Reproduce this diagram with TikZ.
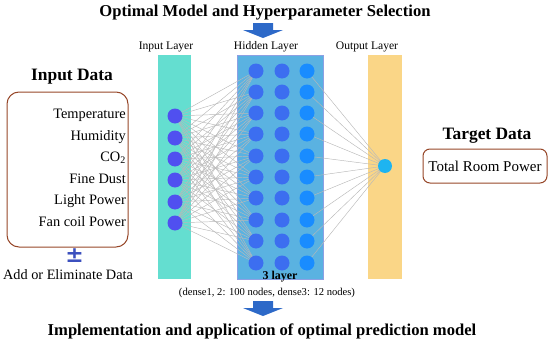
\documentclass[tikz,border=0pt]{standalone}
\usepackage{fontspec}
\setmainfont{Liberation Serif}
\newfontfamily\symfont{DejaVu Sans}
\pgfdeclarelayer{bars}
\pgfdeclarelayer{front}
\pgfsetlayers{bars,main,front}
\definecolor{inbar}{RGB}{100,222,208}
\definecolor{hidbar}{RGB}{90,178,225}
\definecolor{hidedge}{RGB}{140,160,228}
\definecolor{outbar}{RGB}{250,214,135}
\definecolor{innode}{RGB}{80,80,240}
\definecolor{hidnode}{RGB}{60,110,240}
\definecolor{hidnodeC}{RGB}{25,140,255}
\definecolor{outnode}{RGB}{30,180,240}
\definecolor{boxedge}{RGB}{150,70,40}
\definecolor{pmblue}{RGB}{60,80,190}
\definecolor{arrowblue}{RGB}{45,105,200}
\definecolor{linkgray}{RGB}{185,185,185}
\tikzset{
  title/.style={font=\bfseries\fontsize{16.6}{20}\selectfont, inner sep=0pt},
  layerlabel/.style={font=\fontsize{11.6}{13}\selectfont, inner sep=0pt},
  neuron/.style={circle, inner sep=0pt, minimum size=15pt, fill=#1},
  link/.style={draw=linkgray, line width=0.45pt},
  databox/.style={draw=boxedge, line width=1pt, rounded corners=12pt},
  item/.style={font=\fontsize{14.4}{16}\selectfont, anchor=east, inner sep=0pt},
  head/.style={font=\bfseries\fontsize{17.4}{20}\selectfont, inner sep=0pt},
  blockarrow/.style={fill=arrowblue, draw=none}
}
\begin{document}
\begin{tikzpicture}[x=1pt,y=-1pt]
\useasboundingbox (0,0) rectangle (550,343);
% titles
\node[title] (top) at (265,13) {Optimal Model and Hyperparameter Selection};
\node[title] (bottom) at (262,331) {Implementation and application of optimal prediction model};
% block arrows
\fill[blockarrow] (253,23) -- (273,23) -- (273,30) -- (283,30) -- (263,38) -- (243,30) -- (253,30) -- cycle;
\fill[blockarrow] (253,301) -- (273,301) -- (273,308) -- (283,308) -- (263,316) -- (243,308) -- (253,308) -- cycle;
% layer labels
\node[layerlabel] (lin) at (166,47) {Input Layer};
\node[layerlabel] (lhid) at (266,47) {Hidden Layer};
\node[layerlabel] (lout) at (367,47) {Output Layer};
% bars
\begin{pgfonlayer}{bars}
\fill[inbar] (158,55) rectangle (191,279);
\fill[hidbar, draw=hidedge, line width=0.8pt] (237,55) rectangle (323,279);
\fill[outbar] (368,55) rectangle (402,279);
\end{pgfonlayer}
% neurons
\begin{pgfonlayer}{front}
\foreach \i/\y in {1/116,2/138,3/159,4/180,5/202,6/223}
  \node[neuron=innode] (in\i) at (175,\y) {};
\foreach \j/\y in {1/71,2/92,3/113,4/134,5/156,6/177,7/198,8/220,9/241,10/263}{
  \node[neuron=hidnode] (ha\j) at (256,\y) {};
  \node[neuron=hidnode] (hb\j) at (282,\y) {};
  \node[neuron=hidnodeC] (hc\j) at (307,\y) {};
}
\node[neuron=outnode, minimum size=14pt] (out) at (385,166) {};
\end{pgfonlayer}
% links
\foreach \i in {1,...,6}
  \foreach \j in {1,...,10}
    \draw[link] (in\i.center) -- (ha\j.center);
\foreach \j in {1,...,10}
  \draw[link] (hc\j.center) -- (out.center);
% hidden layer notes
\node[font=\bfseries\fontsize{12}{14}\selectfont, inner sep=0pt] (nlayer) at (280,277) {3 layer};
\node[font=\fontsize{10.6}{12}\selectfont, inner sep=0pt] (ndense) at (267,293) {(dense1, 2: 100 nodes, dense3: 12 nodes)};
% input data
\node[head] (inhead) at (72,77) {Input Data};
\draw[databox] (7,92) rectangle (128,247);
\node[item] (t1) at (126,115) {Temperature};
\node[item] (t2) at (126,137) {Humidity};
\node[item] (t3) at (126,158) {CO\textsubscript{2}};
\node[item] (t4) at (126,179) {Fine Dust};
\node[item] (t5) at (126,201) {Light Power};
\node[item] (t6) at (126,222) {Fan coil Power};
\node[font=\symfont\bfseries\fontsize{22}{24}\selectfont, text=pmblue, inner sep=0pt] (pm) at (74.5,255.5) {±};
\node[font=\fontsize{14.3}{16}\selectfont, inner sep=0pt] (addel) at (68,274.5) {Add or Eliminate Data};
% target data
\node[head] (tghead) at (487,136) {Target Data};
\node[databox, rounded corners=7pt, minimum width=124pt, minimum height=34pt, font=\fontsize{15}{17}\selectfont] (tgbox) at (485,166) {Total Room Power};
\end{tikzpicture}
\end{document}
